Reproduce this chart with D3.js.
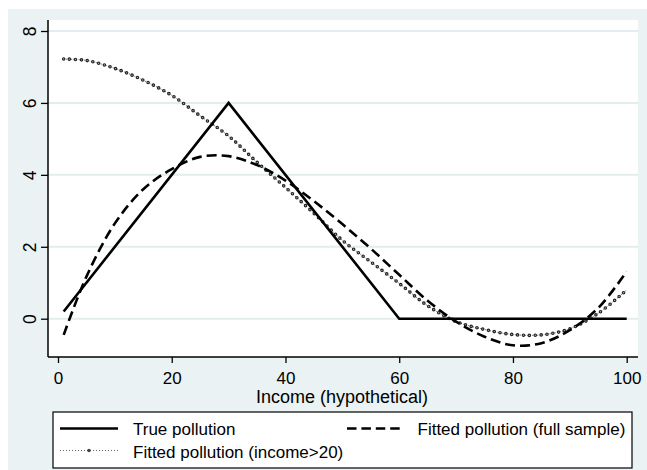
<!DOCTYPE html>
<html>
<head>
<meta charset="utf-8">
<script src="https://cdn.jsdelivr.net/npm/d3@7"></script>
<style>
  body { margin: 0; background: #fff; }
  text { font-family: "Liberation Sans", Arial, Helvetica, sans-serif; fill: #000; }
</style>
</head>
<body>
<script>
// values
var xTicks = [0, 20, 40, 60, 80, 100];
var yTicks = [0, 2, 4, 6, 8];

var trueX = [1, 30, 60, 100];
var trueY = [0.2, 6, 0, 0];

var fitX = [1, 5, 10, 15, 20, 25, 30, 35, 40, 45, 50, 55, 60, 65, 70, 75, 80, 85, 90, 95, 100];
var fullY = [-0.45, 1.17, 2.65, 3.6, 4.16, 4.5, 4.52, 4.27, 3.84, 3.27, 2.63, 1.95, 1.22, 0.5, -0.08, -0.5, -0.74, -0.68, -0.32, 0.3, 1.31];
var sub20Y = [7.22, 7.18, 6.96, 6.63, 6.21, 5.64, 5.08, 4.35, 3.65, 2.93, 2.18, 1.58, 0.98, 0.36, -0.08, -0.3, -0.44, -0.45, -0.28, 0.15, 0.8];

var legendNames = ["True pollution", "Fitted pollution (full sample)", "Fitted pollution (income>20)"];
var xTitle = "Income (hypothetical)";

function init() {
    var w = 647, h = 470;
    var plotLeft = 48, plotRight = 638, plotTop = 20, plotBottom = 357;

    var svg = d3.select("body").append("svg")
        .attr("width", w)
        .attr("height", h);

    // outer background
    svg.append("rect")
        .attr("x", 8).attr("y", 9)
        .attr("width", w - 8).attr("height", h - 9)
        .attr("fill", "#eaf2f3");

    svg.append("rect")
        .attr("x", plotLeft).attr("y", plotTop)
        .attr("width", plotRight - plotLeft).attr("height", plotBottom - plotTop)
        .attr("fill", "#fff");

    var xScale = d3.scaleLinear().domain([0, 100]).range([58, 626.7]);
    var yScale = d3.scaleLinear().domain([0, 8]).range([318.7, 31]);

    // grid
    svg.selectAll("line.grid")
        .data(yTicks)
        .enter()
        .append("line")
        .attr("class", "grid")
        .attr("x1", plotLeft).attr("x2", plotRight)
        .attr("y1", function(d) { return yScale(d); })
        .attr("y2", function(d) { return yScale(d); })
        .attr("stroke", "#e3ecee")
        .attr("stroke-width", 2);

    // y axis
    var yAxis = svg.append("g")
        .attr("transform", "translate(" + plotLeft + ",0)")
        .call(d3.axisLeft(yScale).tickValues(yTicks).tickSize(7).tickSizeOuter(0));
    yAxis.select(".domain").remove();
    yAxis.selectAll(".tick line").attr("stroke", "#000").attr("stroke-width", 1.3);
    yAxis.selectAll(".tick text")
        .attr("font-size", 17.5)
        .attr("x", null).attr("dy", null)
        .attr("text-anchor", "middle")
        .attr("transform", "translate(-12.5,0) rotate(-90)");

    svg.append("line")
        .attr("x1", plotLeft).attr("x2", plotLeft)
        .attr("y1", plotTop).attr("y2", plotBottom)
        .attr("stroke", "#000").attr("stroke-width", 1.5);

    // x axis
    var xAxis = svg.append("g")
        .attr("transform", "translate(0," + plotBottom + ")")
        .call(d3.axisBottom(xScale).tickValues(xTicks).tickSize(6).tickSizeOuter(0));
    xAxis.select(".domain").remove();
    xAxis.selectAll(".tick line").attr("stroke", "#000").attr("stroke-width", 1.3);
    xAxis.selectAll(".tick text")
        .attr("font-size", 17)
        .attr("y", 26.5).attr("dy", null);

    svg.append("line")
        .attr("x1", plotLeft).attr("x2", plotRight)
        .attr("y1", plotBottom).attr("y2", plotBottom)
        .attr("stroke", "#000").attr("stroke-width", 1.5);

    svg.append("text")
        .attr("x", 342).attr("y", 402.5)
        .attr("text-anchor", "middle")
        .attr("font-size", 18)
        .text(xTitle);

    // lines
    var smooth = d3.line()
        .x(function(d) { return xScale(d[0]); })
        .y(function(d) { return yScale(d[1]); })
        .curve(d3.curveCatmullRom.alpha(0.5));
    var straight = d3.line()
        .x(function(d) { return xScale(d[0]); })
        .y(function(d) { return yScale(d[1]); });

    var truePts = d3.zip(trueX, trueY);
    var fullPts = d3.zip(fitX, fullY);
    var subPts = d3.zip(fitX, sub20Y);

    // income>20 fit: thin dotted line with hollow markers
    svg.append("path")
        .attr("d", smooth(subPts))
        .attr("fill", "none")
        .attr("stroke", "#555")
        .attr("stroke-width", 1)
        .attr("stroke-dasharray", "1,1.5");
    svg.append("path")
        .attr("d", smooth(subPts))
        .attr("fill", "none")
        .attr("stroke", "#222")
        .attr("stroke-width", 3.6)
        .attr("stroke-linecap", "round")
        .attr("stroke-dasharray", "0,5.9");
    svg.append("path")
        .attr("d", smooth(subPts))
        .attr("fill", "none")
        .attr("stroke", "#aaa")
        .attr("stroke-width", 1.4)
        .attr("stroke-linecap", "round")
        .attr("stroke-dasharray", "0,5.9");

    // full sample fit: dashed
    svg.append("path")
        .attr("d", smooth(fullPts))
        .attr("fill", "none")
        .attr("stroke", "#000")
        .attr("stroke-width", 2.6)
        .attr("stroke-dasharray", "10,5");

    // true pollution: solid
    svg.append("path")
        .attr("d", straight(truePts))
        .attr("fill", "none")
        .attr("stroke", "#000")
        .attr("stroke-width", 2.6)
        .attr("stroke-linejoin", "miter");

    // legend
    var lg = svg.append("g");
    lg.append("rect")
        .attr("x", 53).attr("y", 412)
        .attr("width", 579).attr("height", 56)
        .attr("fill", "#fff")
        .attr("stroke", "#000")
        .attr("stroke-width", 1.2);

    lg.append("line")
        .attr("x1", 60).attr("x2", 118).attr("y1", 428.5).attr("y2", 428.5)
        .attr("stroke", "#000").attr("stroke-width", 2.6);
    lg.append("text").attr("x", 133).attr("y", 435)
        .attr("font-size", 17).text(legendNames[0]);

    lg.append("line")
        .attr("x1", 347).attr("x2", 400).attr("y1", 428.5).attr("y2", 428.5)
        .attr("stroke", "#000").attr("stroke-width", 2.6)
        .attr("stroke-dasharray", "9.5,4.9");
    lg.append("text").attr("x", 417.5).attr("y", 435)
        .attr("font-size", 17).text(legendNames[1]);

    lg.append("line")
        .attr("x1", 60).attr("x2", 118).attr("y1", 450.5).attr("y2", 450.5)
        .attr("stroke", "#666").attr("stroke-width", 1)
        .attr("stroke-dasharray", "1,2");
    lg.append("circle")
        .attr("cx", 89).attr("cy", 450.5).attr("r", 1.8)
        .attr("fill", "#444");
    lg.append("text").attr("x", 133).attr("y", 457.5)
        .attr("font-size", 17).text(legendNames[2]);
}

window.onload = init;
</script>
</body>
</html>
